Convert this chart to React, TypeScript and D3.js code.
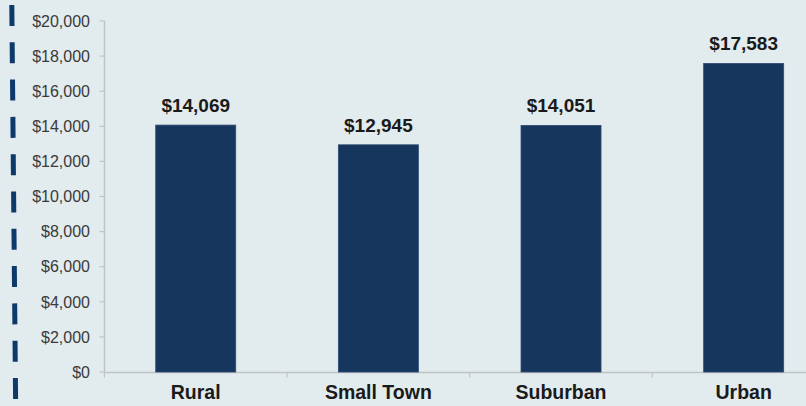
import React from "react";
import * as d3 from "d3";

const categories = ["Rural", "Small Town", "Suburban", "Urban"];
const values = [14069, 12945, 14051, 17583];
const yTicks = [0, 2000, 4000, 6000, 8000, 10000, 12000, 14000, 16000, 18000, 20000];

const W = 806;
const H = 406;

export default function App() {
  const x = d3
    .scaleBand<string>()
    .domain(categories)
    .range([104.4, 835])
    .paddingInner(0.562)
    .paddingOuter(0.281);
  const y = d3.scaleLinear().domain([0, 20000]).range([372, 21]);
  const fmt = (v: number) => "$" + d3.format(",")(v);
  const step = x.step();
  const boundaries = d3.range(categories.length + 1).map((i) => 104.4 + i * step);

  return (
    <svg
      width={W}
      height={H}
      style={{ position: "absolute", left: 0, top: 0, background: "#e2ebed" }}
      fontFamily="Liberation Sans, Arial, sans-serif"
    >
      <rect x={0} y={0} width={W} height={H} fill="#e2ebed" />
      <line
        x1={11.8}
        y1={5}
        x2={15.6}
        y2={400}
        stroke="#0d3a6b"
        strokeWidth={5}
        strokeDasharray="21 16.3"
      />
      {/* y axis */}
      <line x1={104.5} y1={21} x2={104.5} y2={372} stroke="#c0c4c6" strokeWidth={1.5} />
      {yTicks.map((t) => (
        <g key={t}>
          <line x1={99.5} x2={104.5} y1={y(t)} y2={y(t)} stroke="#c0c4c6" strokeWidth={1.2} />
          <text
            x={90}
            y={y(t)}
            dy="0.36em"
            textAnchor="end"
            fontSize={16}
            fill="#3a3a3a"
          >
            {fmt(t)}
          </text>
        </g>
      ))}
      {/* x axis */}
      <line x1={104} y1={372.5} x2={W} y2={372.5} stroke="#c0c4c6" strokeWidth={1.5} />
      {boundaries.map((b, i) => (
        <line key={i} x1={b} x2={b} y1={372.5} y2={377.5} stroke="#c0c4c6" strokeWidth={1.2} />
      ))}
      {categories.map((c, i) => (
        <g key={c}>
          <rect
            x={x(c)}
            y={y(values[i])}
            width={x.bandwidth()}
            height={y(0) - y(values[i])}
            fill="#17365d"
            stroke="#2d4a70"
            strokeWidth={0.8}
          />
          <text
            x={(x(c) as number) + x.bandwidth() / 2}
            y={y(values[i]) - 13}
            textAnchor="middle"
            fontSize={19}
            fontWeight="bold"
            fill="#1a1a1a"
          >
            {fmt(values[i])}
          </text>
          <text
            x={(x(c) as number) + x.bandwidth() / 2}
            y={399}
            textAnchor="middle"
            fontSize={19.5}
            fontWeight="bold"
            fill="#1a1a1a"
          >
            {c}
          </text>
        </g>
      ))}
    </svg>
  );
}
